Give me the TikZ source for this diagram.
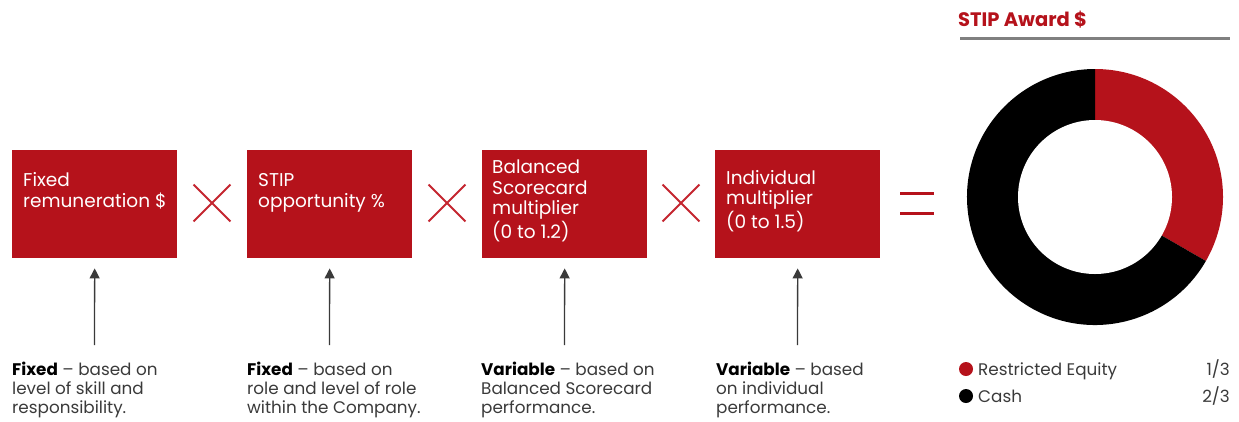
\documentclass[tikz,border=0pt]{standalone}
\usepackage{fontspec}
\setmainfont{Poppins}
\usetikzlibrary{arrows.meta,shapes.misc}
\definecolor{stipred}{HTML}{B5121B}
\definecolor{xred}{HTML}{C42630}
\definecolor{bodytext}{HTML}{3A3A3A}
\definecolor{rulegray}{HTML}{808080}
\tikzset{
  box/.style={fill=stipred, draw=none, minimum width=165pt, minimum height=108pt, anchor=north west, inner sep=0pt},
  boxtext/.style={text=white, font=\fontsize{18.5}{20.6}\selectfont, align=left, anchor=base west, inner sep=0pt},
  xmark/.style={cross out, draw=xred, line width=1.8pt, minimum size=35pt, inner sep=0pt},
  desc/.style={text=bodytext, font=\fontsize{16.8}{19}\selectfont, align=left, anchor=base west, inner sep=0pt},
  arr/.style={draw=bodytext, line width=1.3pt, -{Triangle[width=10pt,length=10pt]}, shorten >=10pt},
  legtext/.style={text=bodytext, font=\fontsize{16.8}{19}\selectfont, inner sep=0pt},
  dot/.style={circle, minimum size=14pt, inner sep=0pt},
}
\begin{document}
\begin{tikzpicture}[x=1pt,y=-1pt]
\useasboundingbox (0,0) rectangle (1239,421);
% boxes
\node[box] (b1) at (12,150) {};
\node[box] (b2) at (247,150) {};
\node[box] (b3) at (482,150) {};
\node[box] (b4) at (715,150) {};
% box texts (anchor = baseline of last line)
\node[boxtext] (t1) at (23,207) {Fixed\\remuneration \$};
\node[boxtext] (t2) at (258,207) {STIP\\opportunity \%};
\node[boxtext] (t3) at (492,238) {Balanced\\Scorecard\\multiplier\\(0 to 1.2)};
\node[boxtext] (t4) at (726,228) {Individual\\multiplier\\(0 to 1.5)};
% operators
\node[xmark] (x1) at (212,203) {};
\node[xmark] (x2) at (447,203) {};
\node[xmark] (x3) at (681,203) {};
\draw[stipred, line width=3pt] (900,193) -- (934,193);
\draw[stipred, line width=3pt] (900,213) -- (934,213);
% arrows
\coordinate (a1) at (94.5,345);
\coordinate (a2) at (329.5,345);
\coordinate (a3) at (564.5,345);
\coordinate (a4) at (797.5,345);
\draw[arr] (a1) -- (b1.south);
\draw[arr] (a2) -- (b2.south);
\draw[arr] (a3) -- (b3.south);
\draw[arr] (a4) -- (b4.south);
% descriptions (anchor = baseline of last line)
\node[desc] (d1) at (12,413) {\textbf{\color{black}Fixed} – based on\\level of skill and\\responsibility.};
\node[desc] (d2) at (247,413) {\textbf{\color{black}Fixed} – based on\\role and level of role\\within the Company.};
\node[desc] (d3) at (481,413) {\textbf{\color{black}Variable} – based on\\Balanced Scorecard\\performance.};
\node[desc] (d4) at (716,413) {\textbf{\color{black}Variable} – based\\on individual\\performance.};
% title
\node[text=stipred, font=\fontsize{19.5}{22}\selectfont\bfseries, anchor=base west, inner sep=0pt] (title) at (958,26.5) {STIP Award \$};
\coordinate (r1) at (960,38);
\coordinate (r2) at (1230,38);
\draw[rulegray, line width=3pt] (r1) -- (r2);
% donut
\coordinate (dc) at (1095,197);
\fill[stipred] (dc) -- ++(-90:128) arc[start angle=-90,end angle=30,radius=128] -- cycle;
\fill[black] (dc) -- ++(30:128) arc[start angle=30,end angle=270,radius=128] -- cycle;
\fill[white] (dc) circle[radius=77];
% legend
\node[dot, fill=stipred] (g1) at (966,369) {};
\node[dot, fill=black] (g2) at (966,396) {};
\node[legtext, anchor=base west] (l1) at (978,375) {Restricted Equity};
\node[legtext, anchor=base west] (l2) at (978,402) {Cash};
\node[legtext, anchor=base east] (v1) at (1230,375) {1/3};
\node[legtext, anchor=base east] (v2) at (1230,402) {2/3};
\end{tikzpicture}
\end{document}
